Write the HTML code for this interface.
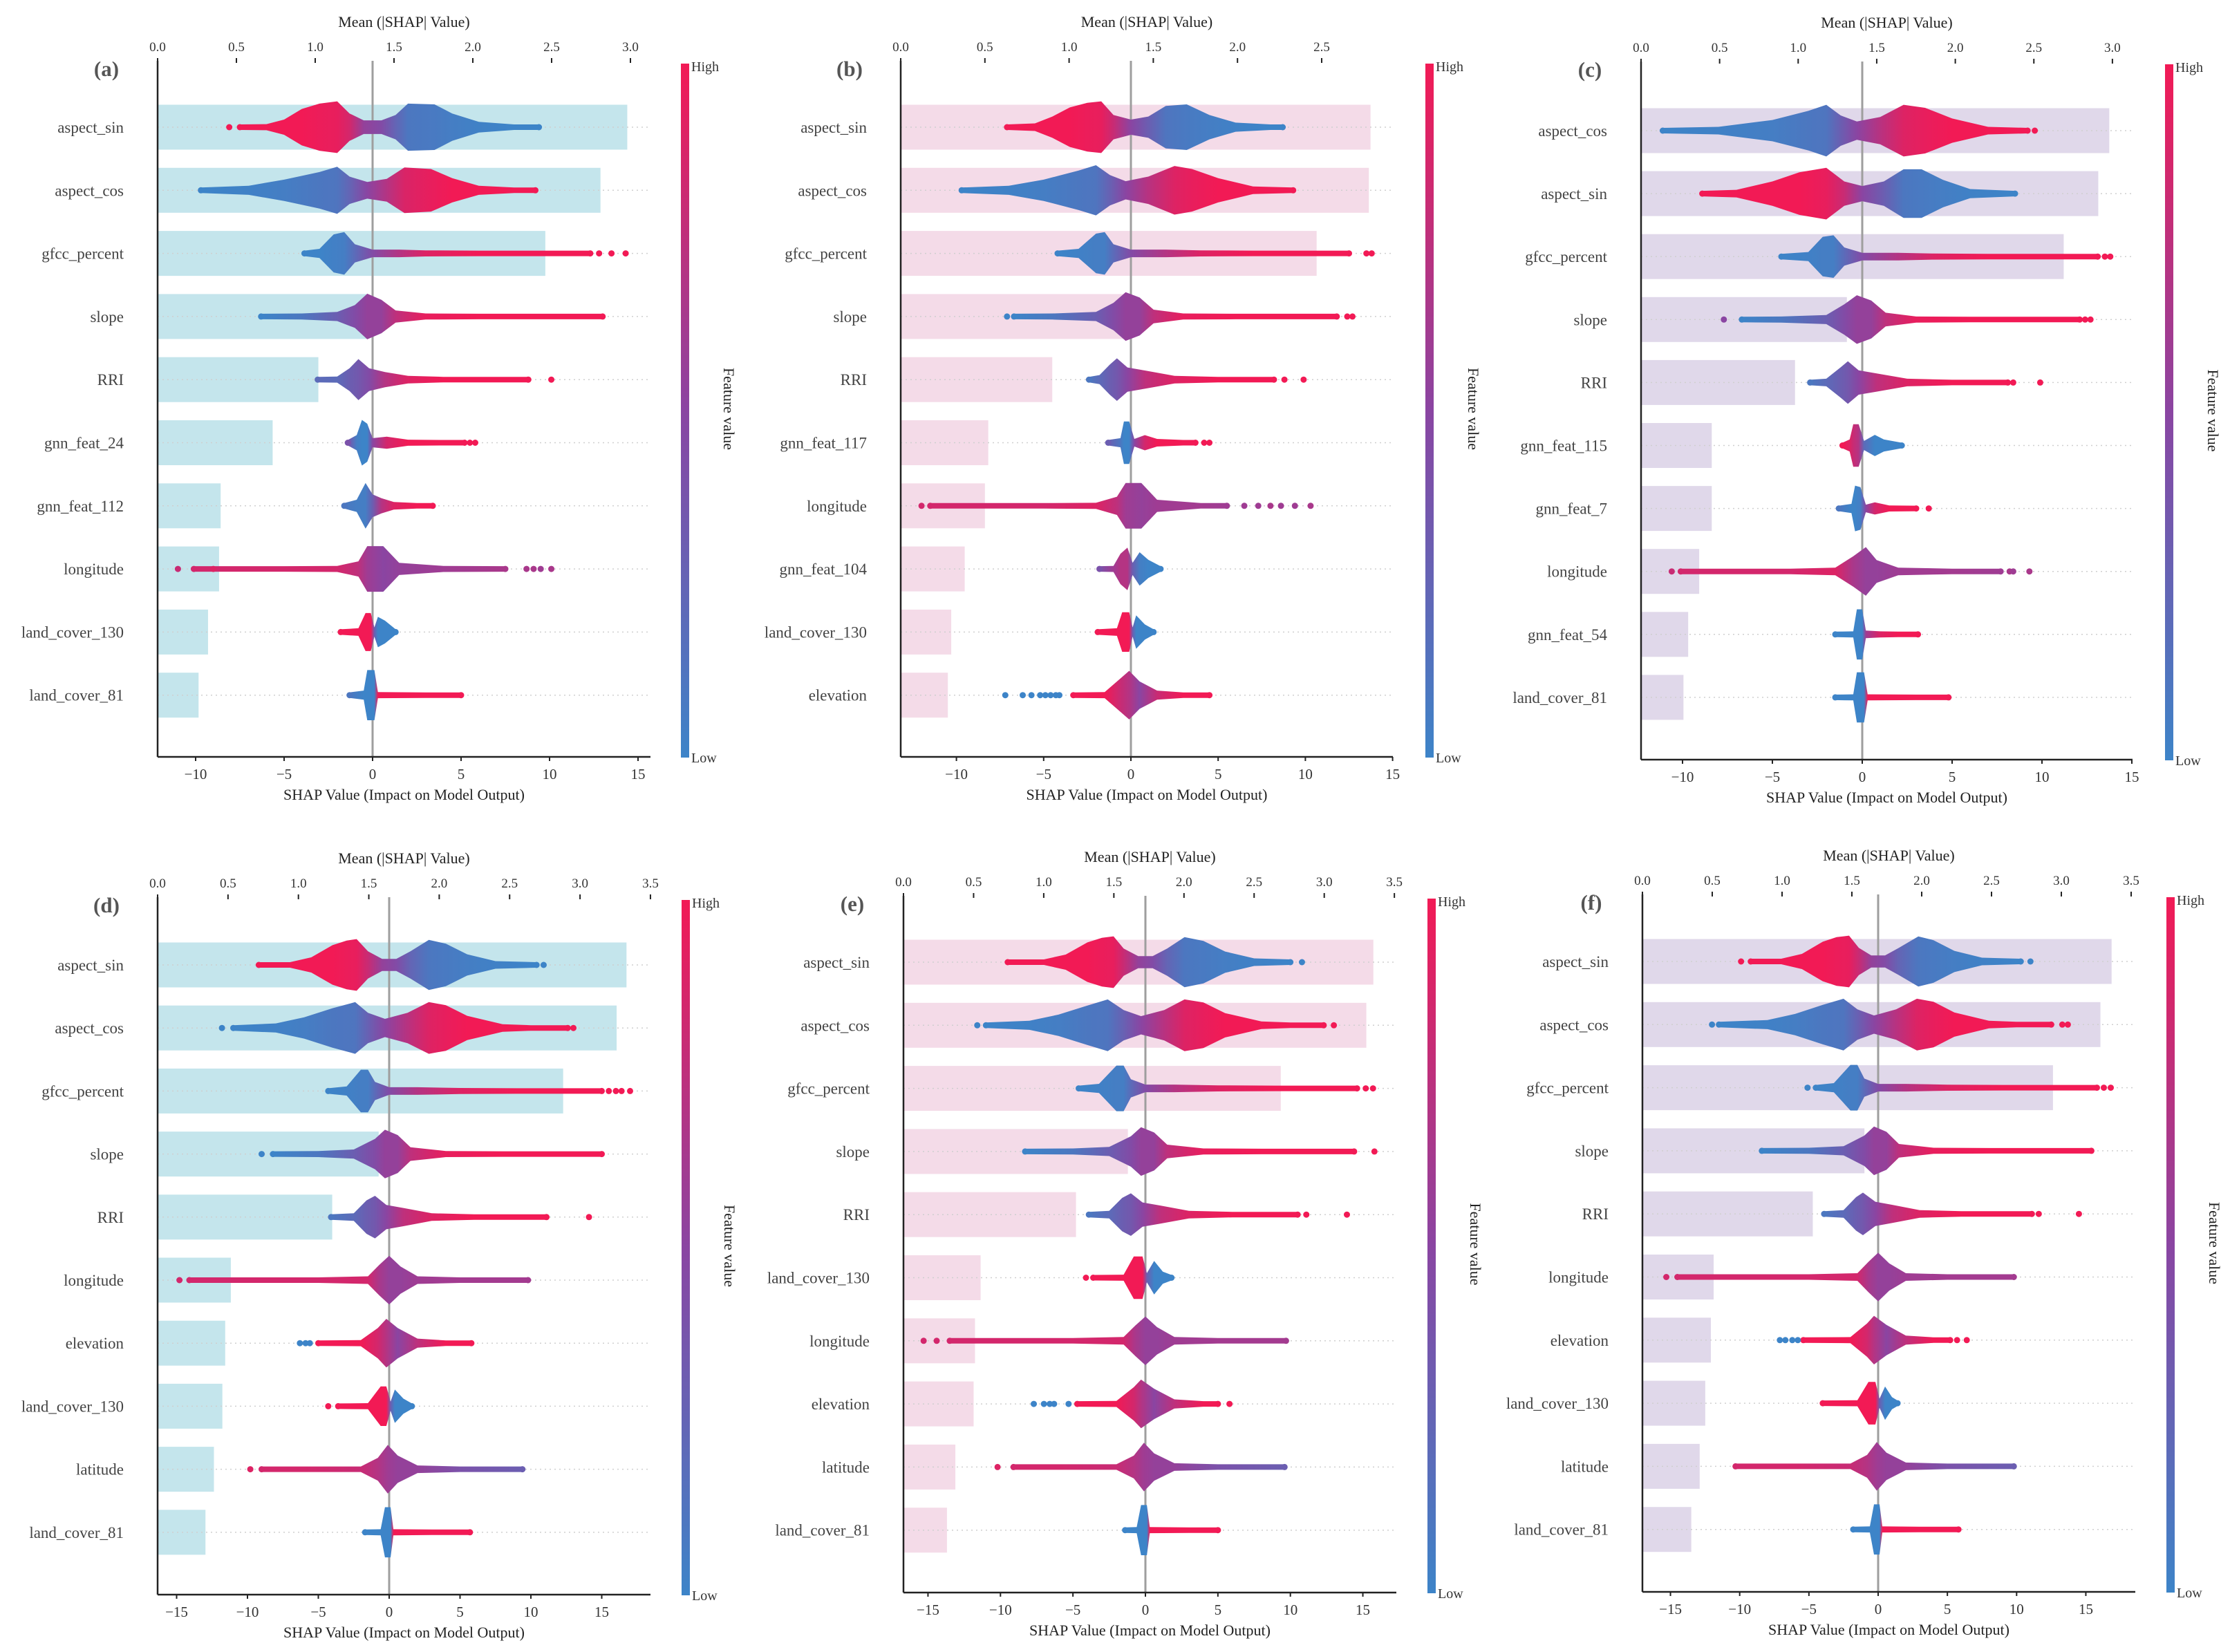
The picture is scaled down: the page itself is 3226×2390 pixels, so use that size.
<!DOCTYPE html>
<html><head><meta charset="utf-8"><style>
html,body{margin:0;padding:0;background:#fff;}
svg{display:block;font-family:"Liberation Serif","DejaVu Serif",serif;}
</style></head><body>
<svg id="fig" width="3226" height="2390" viewBox="0 0 3226 2390" xmlns="http://www.w3.org/2000/svg">
<defs>
<linearGradient id="cbgrad" x1="0" y1="1" x2="0" y2="0">
<stop offset="0" stop-color="#3d84c8"/><stop offset="0.5" stop-color="#8a45a2"/><stop offset="1" stop-color="#f21a55"/>
</linearGradient>
</defs>
</svg>
<script>
// ---------- data ----------
const panelLabels = ["(a)","(b)","(c)","(d)","(e)","(f)"];
const featuresA = ["aspect_sin","aspect_cos","gfcc_percent","slope","RRI","gnn_feat_24","gnn_feat_112","longitude","land_cover_130","land_cover_81"];
const featuresB = ["aspect_sin","aspect_cos","gfcc_percent","slope","RRI","gnn_feat_117","longitude","gnn_feat_104","land_cover_130","elevation"];
const featuresC = ["aspect_cos","aspect_sin","gfcc_percent","slope","RRI","gnn_feat_115","gnn_feat_7","longitude","gnn_feat_54","land_cover_81"];
const featuresD = ["aspect_sin","aspect_cos","gfcc_percent","slope","RRI","longitude","elevation","land_cover_130","latitude","land_cover_81"];
const featuresE = ["aspect_sin","aspect_cos","gfcc_percent","slope","RRI","land_cover_130","longitude","elevation","latitude","land_cover_81"];
const featuresF = ["aspect_sin","aspect_cos","gfcc_percent","slope","RRI","longitude","elevation","land_cover_130","latitude","land_cover_81"];

const meanA = [2.98,2.81,2.46,1.33,1.02,0.73,0.40,0.39,0.32,0.26];
const meanB = [2.79,2.78,2.47,1.33,0.90,0.52,0.50,0.38,0.30,0.28];
const meanC = [2.98,2.91,2.69,1.31,0.98,0.45,0.45,0.37,0.30,0.27];
const meanD = [3.33,3.26,2.88,1.57,1.24,0.52,0.48,0.46,0.40,0.34];
const meanE = [3.35,3.30,2.69,1.60,1.23,0.55,0.51,0.50,0.37,0.31];
const meanF = [3.36,3.28,2.94,1.59,1.22,0.51,0.49,0.45,0.41,0.35];

const shapTicksTop = [-10,-5,0,5,10,15];
const shapTicksBot = [-15,-10,-5,0,5,10,15];
const meanTicks30 = [0,0.5,1,1.5,2,2.5,3];
const meanTicks25 = [0,0.5,1,1.5,2,2.5];
const meanTicks35 = [0,0.5,1,1.5,2,2.5,3,3.5];

// swarm profiles: [shap, density half-height, feature colour 0..1]
const swarmA = [
 [[-7.5,2,1],[-6,4,1],[-5,10,1],[-4,24,1],[-3,31,0.97],[-2,34,0.95],[-1.3,18,0.85],[-0.5,9,0.55],[0.5,9,0.45],[1.3,16,0.25],[2,31,0.1],[3.5,30,0.08],[4.5,18,0.05],[6,7,0.02],[8,3,0],[9.4,2,0]],
 [[-9.7,2,0],[-7,6,0.02],[-5,14,0.05],[-3,24,0.1],[-2,31,0.12],[-1.3,18,0.25],[-0.3,11,0.5],[0.8,15,0.7],[1.8,30,0.88],[3.3,28,0.95],[4.5,16,1],[6,6,1],[8,3,1],[9.2,2,1]],
 [[-3.85,2,0],[-3,6,0],[-2.2,25,0.03],[-1.6,28,0.05],[-1,12,0.2],[0,5,0.45],[1.5,5,0.7],[3,4,0.9],[6,3,1],[10,2.5,1],[12.3,2,1]],
 [[-6.3,2,0],[-4,4,0.1],[-2,6,0.3],[-1,15,0.45],[-0.3,30,0.55],[0.5,22,0.55],[1.3,8,0.75],[3,4,0.95],[6,3,1],[10,2.5,1],[13,2,1]],
 [[-3.1,2,0.2],[-2,4,0.2],[-1.3,15,0.3],[-0.8,27,0.35],[-0.2,15,0.45],[0.7,10,0.7],[2,5,0.9],[4,3,1],[7,2.5,1],[8.8,2,1]],
 [[-1.4,2,0.4],[-0.9,10,0.05],[-0.6,30,0],[-0.3,25,0],[0,6,0.5],[0.8,8,0.85],[2,4,1],[4,3,1],[5.2,2.5,1]],
 [[-1.6,2,0.1],[-0.9,8,0.05],[-0.4,30,0.05],[0,15,0.3],[0.5,10,0.7],[1.2,5,0.9],[2.5,3,1],[3.4,2,1]],
 [[-10.1,2,0.85],[-5,2.5,0.85],[-2,4,0.85],[-0.8,10,0.75],[-0.3,30,0.6],[0.6,30,0.5],[1.5,8,0.55],[4,4,0.6],[7.5,2.5,0.65]],
 [[-1.8,2,1],[-0.8,5,1],[-0.4,25,1],[-0.1,25,1],[0.1,6,0.3],[0.3,20,0],[0.7,15,0],[1.3,2,0]],
 [[-1.3,2,0.1],[-0.5,6,0],[-0.3,33,0],[0.1,33,0],[0.3,4,1],[3,3.5,1],[5,2.5,1]]
];
const outliersA = [[[-8.1,1]],[],[[12.8,1],[13.5,1],[14.3,1]],[],[[10.1,1]],[[5.5,1],[5.8,1]],[],[[-11,0.8],[-9,0.9],[8.7,0.65],[9.1,0.65],[9.5,0.6],[10.1,0.65]],[],[]];

const swarmB = [
 [[-7.1,2,1],[-5.5,5,1],[-4.5,14,1],[-3.5,26,1],[-2.5,32,0.97],[-1.7,34,0.95],[-1,16,0.8],[0,10,0.5],[1,14,0.3],[2,28,0.12],[3.2,30,0.08],[4.5,16,0.05],[6,6,0.02],[8,3,0],[8.7,2,0]],
 [[-9.7,2,0],[-7,6,0.02],[-5,14,0.05],[-3,26,0.1],[-2,33,0.12],[-1.2,20,0.28],[-0.3,12,0.5],[1,18,0.72],[2.5,32,0.9],[3.5,28,0.95],[5,16,1],[7,5,1],[9.3,2,1]],
 [[-4.2,2,0],[-3,6,0.02],[-2,26,0.05],[-1.5,28,0.05],[-1,12,0.2],[0,5,0.45],[2,5,0.7],[4,4,0.9],[7,3,1],[11,2.5,1],[12.5,2,1]],
 [[-6.7,2,0],[-4.5,4,0.1],[-2,6,0.3],[-1,18,0.45],[-0.3,32,0.55],[0.5,25,0.55],[1.3,9,0.75],[3,4,0.95],[6,3,1],[10,2.5,1],[11.8,2,1]],
 [[-2.4,2,0.1],[-1.8,6,0.2],[-1.2,20,0.3],[-0.8,28,0.35],[-0.2,16,0.5],[0.8,12,0.75],[2.5,5,0.9],[5,3,1],[8.2,2,1]],
 [[-1.3,2,0.3],[-0.6,6,0.1],[-0.4,28,0],[-0.1,28,0],[0.2,5,0.5],[0.8,10,0.85],[1.5,5,1],[3,3,1],[3.7,2,1]],
 [[-11.5,2,0.85],[-8,2.5,0.85],[-5,2.5,0.85],[-2,4,0.9],[-0.8,12,0.75],[-0.3,30,0.6],[0.6,30,0.55],[1.5,8,0.6],[4,3,0.62],[5.5,2.5,0.6]],
 [[-1.8,2,0.4],[-1,4,0.6],[-0.6,20,0.7],[-0.2,28,0.7],[0.1,8,0.3],[0.5,22,0.05],[1,12,0],[1.7,3,0]],
 [[-1.9,2,1],[-0.8,5,1],[-0.5,26,1],[-0.1,26,1],[0.1,6,0.3],[0.3,22,0],[0.8,10,0],[1.3,2,0]],
 [[-3.3,2,1],[-1.5,4,1],[-0.6,22,0.8],[-0.1,32,0.7],[0.5,18,0.5],[1.5,6,0.8],[3,3,1],[4.5,2,1]]
];
const outliersB = [[],[],[[13.5,1],[13.8,1]],[[-7.1,0],[12.4,1],[12.7,1]],[[8.8,1],[9.9,1]],[[4.2,1],[4.5,1]],[[-12,0.85],[6.5,0.6],[7.3,0.6],[8,0.65],[8.6,0.6],[9.4,0.6],[10.3,0.65]],[],[],[[-7.2,0],[-6.2,0],[-5.7,0],[-5.2,0],[-4.9,0],[-4.6,0],[-4.3,0],[-4.1,0]]];

const swarmC = [
 [[-11.1,2,0],[-8,5,0.02],[-5,14,0.05],[-3,26,0.1],[-2,34,0.12],[-1.2,20,0.3],[-0.3,12,0.5],[1,18,0.72],[2.3,34,0.9],[3.5,30,0.95],[5,16,1],[7,5,1],[9.2,2,1]],
 [[-8.9,2,1],[-7,5,1],[-5,16,1],[-3.5,28,1],[-2,34,0.95],[-1,16,0.8],[0,10,0.5],[1.2,16,0.3],[2.3,32,0.1],[3.3,32,0.08],[4.5,18,0.05],[6,6,0.02],[8.5,2,0]],
 [[-4.5,2,0],[-3,6,0.02],[-2.2,26,0.05],[-1.6,28,0.05],[-1,12,0.2],[0,5,0.45],[2,5,0.7],[4,4,0.9],[7,3,1],[12,2.5,1],[13.1,2,1]],
 [[-6.7,2,0],[-4.5,4,0.1],[-2,6,0.3],[-1,20,0.45],[-0.3,32,0.55],[0.5,25,0.55],[1.3,9,0.75],[3,4,0.95],[6,3,1],[11,2.5,1],[12.1,2,1]],
 [[-2.9,2,0.1],[-2,5,0.2],[-1.2,20,0.3],[-0.8,28,0.35],[-0.2,16,0.5],[0.8,12,0.75],[2.5,5,0.9],[5,3,1],[8.1,2,1]],
 [[-1.1,2,1],[-0.7,8,0.9],[-0.5,28,0.8],[-0.2,28,0.7],[0.1,6,0.2],[0.7,14,0],[1.2,8,0],[2.2,2,0]],
 [[-1.3,2,0.1],[-0.6,6,0],[-0.4,30,0],[-0.1,28,0.05],[0.2,5,0.5],[0.7,8,0.85],[1.5,4,1],[3,2,1]],
 [[-10.1,2,0.85],[-7,2.5,0.85],[-4,3,0.85],[-1.5,5,0.9],[-0.5,20,0.65],[0.2,32,0.55],[0.8,15,0.55],[2,5,0.6],[5,3,0.62],[7.7,2.5,0.6]],
 [[-1.5,2,0],[-0.5,4,0],[-0.3,33,0],[0,33,0],[0.2,5,0.6],[1,4,0.9],[2,3,1],[3.1,2,1]],
 [[-1.5,2,0],[-0.5,4,0],[-0.3,33,0],[0.1,33,0],[0.3,4,1],[3,3.5,1],[4.8,2.5,1]]
];
const outliersC = [[[9.6,1]],[],[[13.5,1],[13.8,1]],[[-7.7,0.5],[12.4,1],[12.7,1]],[[8.4,1],[9.9,1]],[],[[3.7,1]],[[-10.6,0.8],[8.2,0.65],[8.4,0.6],[9.3,0.65]],[],[]];

const swarmD = [
 [[-9.2,2,1],[-7,3,1],[-5.5,10,1],[-4,26,1],[-3,32,0.97],[-2.3,34,0.95],[-1.5,18,0.8],[-0.5,8,0.55],[0.5,8,0.45],[1.5,18,0.25],[2.8,33,0.1],[4,28,0.08],[5.5,14,0.05],[7.5,5,0.02],[10.4,2,0]],
 [[-11,2,0],[-8,6,0.02],[-6,14,0.05],[-4,26,0.1],[-2.4,34,0.12],[-1.5,20,0.28],[-0.3,12,0.5],[1.3,20,0.72],[2.8,34,0.9],[4,30,0.95],[5.5,16,1],[8,5,1],[10,3,1],[12.6,2,1]],
 [[-4.3,2,0],[-3,6,0.02],[-2,28,0.05],[-1.5,28,0.05],[-1,12,0.2],[0,5,0.45],[2,5,0.7],[5,4,0.9],[9,3,1],[14,2.5,1],[15,2,1]],
 [[-8.2,2,0],[-5,4,0.1],[-2.5,6,0.3],[-1,20,0.45],[-0.3,32,0.55],[0.6,25,0.55],[1.5,9,0.75],[4,4,0.95],[8,3,1],[13,2.5,1],[15,2,1]],
 [[-4.1,2,0.1],[-2.5,5,0.2],[-1.6,22,0.3],[-1,28,0.35],[-0.2,16,0.5],[1,12,0.75],[3,5,0.9],[6,3,1],[11.1,2,1]],
 [[-14.1,2,0.85],[-10,2.5,0.85],[-5,3,0.85],[-1.5,5,0.85],[-0.7,20,0.65],[0,32,0.55],[0.8,18,0.55],[2,5,0.6],[5,3,0.62],[9.8,2.5,0.62]],
 [[-5,2,1],[-2,4,1],[-0.8,20,0.85],[-0.2,32,0.7],[0.6,20,0.5],[2,6,0.75],[4,3,1],[5.8,2,1]],
 [[-3.6,2,1],[-1.5,4,1],[-0.6,26,1],[-0.2,26,1],[0.1,6,0.3],[0.4,22,0],[1,10,0],[1.6,2,0]],
 [[-9,2,0.85],[-6,2.5,0.85],[-2,3,0.8],[-0.8,15,0.7],[-0.1,32,0.6],[0.6,18,0.55],[2,5,0.55],[5,3,0.4],[9.4,2,0.3]],
 [[-1.7,2,0],[-0.6,4,0],[-0.3,33,0],[0.1,33,0],[0.3,4,1],[3,3.5,1],[5.7,2.5,1]]
];
const outliersD = [[[10.9,0]],[[-11.8,0],[13,1]],[[15.5,1],[16,1],[16.4,1],[17,1]],[[-9,0]],[[14.1,1]],[[-14.8,0.85]],[[-6.3,0],[-5.9,0],[-5.6,0]],[[-4.3,1]],[[-9.8,0.9]],[]];

const swarmE = [
 [[-9.5,2,1],[-7,3,1],[-5.5,10,1],[-4,26,1],[-3,32,0.97],[-2.2,34,0.95],[-1.5,18,0.8],[-0.5,8,0.55],[0.5,8,0.45],[1.5,18,0.25],[2.7,33,0.1],[4,28,0.08],[5.5,14,0.05],[7.5,5,0.02],[10,2,0]],
 [[-11,2,0],[-8,6,0.02],[-6,14,0.05],[-4,26,0.1],[-2.6,34,0.12],[-1.5,20,0.28],[-0.3,12,0.5],[1.3,20,0.72],[2.7,34,0.9],[4,30,0.95],[5.5,16,1],[8,5,1],[10,3,1],[12.3,2,1]],
 [[-4.6,2,0],[-3.2,6,0.02],[-2,30,0.05],[-1.5,30,0.05],[-1,12,0.2],[0,5,0.45],[2,5,0.7],[5,4,0.9],[9,3,1],[14,2.5,1],[14.6,2,1]],
 [[-8.3,2,0],[-5,4,0.1],[-2.5,6,0.3],[-1,20,0.45],[-0.3,32,0.55],[0.6,25,0.55],[1.5,9,0.75],[4,4,0.95],[8,3,1],[13,2.5,1],[14.4,2,1]],
 [[-3.9,2,0.1],[-2.5,5,0.2],[-1.6,22,0.3],[-1,28,0.35],[-0.2,16,0.5],[1,12,0.75],[3,5,0.9],[6,3,1],[10.5,2,1]],
 [[-3.6,2,1],[-1.5,4,1],[-0.8,28,1],[-0.2,28,1],[0.1,6,0.3],[0.6,22,0],[1.2,8,0],[1.8,2,0]],
 [[-13.5,2,0.85],[-10,2.5,0.85],[-5,3,0.85],[-1.5,5,0.85],[-0.7,20,0.65],[0,32,0.55],[0.8,18,0.55],[2,5,0.6],[5,3,0.62],[9.7,2.5,0.62]],
 [[-4.7,2,1],[-2,4,1],[-0.8,22,0.85],[-0.3,32,0.7],[0.6,20,0.5],[2,6,0.75],[4,3,1],[5,2,1]],
 [[-9.1,2,0.85],[-6,2.5,0.85],[-2,3,0.8],[-0.8,15,0.7],[-0.1,32,0.6],[0.6,18,0.55],[2,5,0.55],[5,3,0.4],[9.6,2,0.3]],
 [[-1.4,2,0],[-0.6,4,0],[-0.3,33,0],[0.1,33,0],[0.3,4,1],[3,3.5,1],[5,2.5,1]]
];
const outliersE = [[[10.8,0]],[[-11.6,0],[13,1]],[[15.2,1],[15.7,1]],[[15.8,1]],[[11.1,1],[13.9,1]],[[-4.1,1]],[[-15.3,0.85],[-14.4,0.85]],[[-7.7,0],[-7,0],[-6.6,0],[-6.3,0],[-5.3,0],[5.8,1]],[[-10.2,0.9]],[]];

const swarmF = [
 [[-9.2,2,1],[-7,3,1],[-5.5,10,1],[-4,26,1],[-3,32,0.97],[-2.1,34,0.95],[-1.4,18,0.8],[-0.5,8,0.55],[0.5,8,0.45],[1.5,18,0.25],[2.9,33,0.1],[4,28,0.08],[5.5,14,0.05],[7.5,5,0.02],[10.3,2,0]],
 [[-11.5,2,0],[-8,6,0.02],[-6,14,0.05],[-4,26,0.1],[-2.5,34,0.12],[-1.5,20,0.28],[-0.3,12,0.5],[1.3,20,0.72],[2.8,34,0.9],[4,30,0.95],[5.5,16,1],[8,5,1],[10,3,1],[12.5,2,1]],
 [[-4.5,2,0],[-3.2,6,0.02],[-2,30,0.05],[-1.5,30,0.05],[-1,12,0.2],[0,5,0.45],[2,5,0.7],[5,4,0.9],[9,3,1],[15,2.5,1],[15.8,2,1]],
 [[-8.4,2,0],[-5,4,0.1],[-2.5,6,0.3],[-1,20,0.45],[-0.3,32,0.55],[0.6,25,0.55],[1.5,9,0.75],[4,4,0.95],[8,3,1],[13,2.5,1],[15.4,2,1]],
 [[-3.9,2,0.1],[-2.5,5,0.2],[-1.6,22,0.3],[-1.1,28,0.35],[-0.2,16,0.5],[1,12,0.75],[3,5,0.9],[6,3,1],[11.1,2,1]],
 [[-14.5,2,0.85],[-10,2.5,0.85],[-5,3,0.85],[-1.5,5,0.85],[-0.7,20,0.65],[0,32,0.55],[0.8,18,0.55],[2,5,0.6],[5,3,0.62],[9.8,2.5,0.62]],
 [[-5.4,2,1],[-2,4,1],[-0.8,22,0.85],[-0.3,32,0.7],[0.6,20,0.5],[2,6,0.75],[4,3,1],[5.2,2,1]],
 [[-4,2,1],[-1.5,4,1],[-0.7,28,1],[-0.2,28,1],[0.1,6,0.3],[0.5,22,0],[1,8,0],[1.4,2,0]],
 [[-10.3,2,0.85],[-6,2.5,0.85],[-2,3,0.8],[-0.8,15,0.7],[-0.1,32,0.6],[0.6,18,0.55],[2,5,0.55],[5,3,0.4],[9.8,2,0.3]],
 [[-1.8,2,0],[-0.6,4,0],[-0.3,33,0],[0.1,33,0],[0.3,4,1],[3,3.5,1],[5.8,2.5,1]]
];
const outliersF = [[[-9.9,1],[11,0]],[[-12,0],[13.3,1],[13.7,1]],[[-5.1,0],[16.3,1],[16.8,1]],[],[[11.6,1],[14.5,1]],[[-15.3,0.85]],[[-7.1,0],[-6.7,0],[-6.2,0],[-5.8,0],[5.7,1],[6.4,1]],[],[],[]];

// ---------- layout (pixels) ----------
const panels = [
 {label:panelLabels[0],feat:featuresA,mean:meanA,sw:swarmA,out:outliersA,L:228,R:941,T:88,B:1095,zero:539,sp:25.6,mp:228,row0:184,step:91.3,cbx:985,bar:"#c4e5ec",st:shapTicksTop,mt:meanTicks30},
 {label:panelLabels[1],feat:featuresB,mean:meanB,sw:swarmB,out:outliersB,L:1303,R:2015,T:88,B:1095,zero:1636,sp:25.24,mp:243.6,row0:184,step:91.3,cbx:2062,bar:"#f4dbe8",st:shapTicksTop,mt:meanTicks25},
 {label:panelLabels[2],feat:featuresC,mean:meanC,sw:swarmC,out:outliersC,L:2374,R:3085,T:89,B:1099,zero:2694,sp:26,mp:227.3,row0:189,step:91.1,cbx:3132,bar:"#e0d8ea",st:shapTicksTop,mt:meanTicks30},
 {label:panelLabels[3],feat:featuresD,mean:meanD,sw:swarmD,out:outliersD,L:228,R:941,T:1298,B:2307,zero:563,sp:20.5,mp:203.7,row0:1396,step:91.2,cbx:986,bar:"#c4e5ec",st:shapTicksBot,mt:meanTicks35},
 {label:panelLabels[4],feat:featuresE,mean:meanE,sw:swarmE,out:outliersE,L:1307,R:2020,T:1296,B:2304,zero:1657,sp:20.97,mp:202.9,row0:1392,step:91.3,cbx:2065,bar:"#f4dbe8",st:shapTicksBot,mt:meanTicks35},
 {label:panelLabels[5],feat:featuresF,mean:meanF,sw:swarmF,out:outliersF,L:2376,R:3089,T:1294,B:2303,zero:2717,sp:20.03,mp:202,row0:1391,step:91.3,cbx:3134,bar:"#e0d8ea",st:shapTicksBot,mt:meanTicks35}
];
const BARH = 65, HSCALE = 1.1;

const NS = "http://www.w3.org/2000/svg";
const svg = document.getElementById('fig');
const defs = svg.querySelector('defs');
function mk(tag, attrs, parent){ const e=document.createElementNS(NS,tag); for(const k in attrs) e.setAttribute(k,attrs[k]); (parent||svg).appendChild(e); return e; }
function col(c){
  const s=[[61,132,200],[138,69,162],[242,26,85]];
  let a,b,t; if(c<=0.5){a=s[0];b=s[1];t=c/0.5;} else {a=s[1];b=s[2];t=(c-0.5)/0.5;}
  return "rgb("+a.map((v,i)=>Math.round(v+(b[i]-v)*t)).join(",")+")";
}
function fmt(v){ return v<0 ? "\u2212"+Math.abs(v) : String(v); }
let gid=0;
panels.forEach((p,pi)=>{
  const g = mk('g',{});
  
  
  const xs = v => p.zero + v*p.sp;
  const xm = v => p.L + v*p.mp;
  const ry = i => p.row0 + i*p.step;
  p.mean.forEach((m,i)=>{
    const r = mk('rect',{x:p.L,y:ry(i)-BARH/2,width:xm(m)-p.L,height:BARH,fill:p.bar},g);
    
    
  });
  p.feat.forEach((f,i)=>{
    mk('line',{x1:p.L,x2:p.R,y1:ry(i),y2:ry(i),stroke:"#cfcfcf","stroke-width":1.5,"stroke-dasharray":"2,5"},g);
  });
  const zl = mk('line',{x1:p.zero,x2:p.zero,y1:p.T,y2:p.B,stroke:"#9e9e9e","stroke-width":3},g);
  
  
  p.sw.forEach((prof,i)=>{
    const y=ry(i); const id='sg'+(gid++);
    const x0=xs(prof[0][0]), x1=xs(prof[prof.length-1][0]);
    const lg = mk('linearGradient',{id:id,gradientUnits:"userSpaceOnUse",x1:x0,x2:x1,y1:0,y2:0},defs);
    prof.forEach(pt=>{ mk('stop',{offset:((xs(pt[0])-x0)/(x1-x0)).toFixed(4),"stop-color":col(pt[2])},lg); });
    let up=[],dn=[];
    prof.forEach(pt=>{ const h=Math.max(pt[1]*HSCALE,4); up.push(xs(pt[0]).toFixed(1)+","+(y-h).toFixed(1)); dn.unshift(xs(pt[0]).toFixed(1)+","+(y+h).toFixed(1)); });
    const path = mk('path',{d:"M"+up.join(" L")+" L"+dn.join(" L")+" Z",fill:"url(#"+id+")"},g);
    
    
    mk('circle',{cx:x0,cy:y,r:4.5,fill:col(prof[0][2])},g);
    mk('circle',{cx:x1,cy:y,r:4.5,fill:col(prof[prof.length-1][2])},g);
    p.out[i].forEach(o=>{
      const c = mk('circle',{cx:xs(o[0]),cy:y,r:4.5,fill:col(o[1])},g);
      
      
    });
    const t = mk('text',{x:p.L-49,y:y+8,"text-anchor":"end","font-size":23,fill:"#444"},g);
    t.textContent = p.feat[i];
    
    
  });
  mk('line',{x1:p.L,x2:p.L,y1:p.T,y2:p.B,stroke:"#222","stroke-width":2.5},g);
  mk('line',{x1:p.L,x2:p.R,y1:p.B,y2:p.B,stroke:"#222","stroke-width":2.5},g);
  p.st.forEach(v=>{
    const x=xs(v); if(x<p.L-2||x>p.R+2) return;
    mk('line',{x1:x,x2:x,y1:p.B,y2:p.B+6,stroke:"#222","stroke-width":2},g);
    const t=mk('text',{x:x,y:p.B+32,"text-anchor":"middle","font-size":21,fill:"#333"},g);
    t.textContent=fmt(v);
    
    
  });
  const xl=mk('text',{x:(p.L+p.R)/2,y:p.B+62,"text-anchor":"middle","font-size":22,fill:"#222"},g);
  xl.textContent="SHAP Value (Impact on Model Output)";
  
  
  p.mt.forEach(v=>{
    const x=xm(v);
    mk('line',{x1:x,x2:x,y1:p.T-4,y2:p.T+3,stroke:"#222","stroke-width":2},g);
    const t=mk('text',{x:x,y:p.T-14,"text-anchor":"middle","font-size":19,fill:"#333"},g);
    t.textContent=v.toFixed(1);
    
    
  });
  const tl=mk('text',{x:(p.L+p.R)/2,y:p.T-49,"text-anchor":"middle","font-size":22,fill:"#222"},g);
  tl.textContent="Mean (|SHAP| Value)";
  
  
  const pl=mk('text',{x:p.L-74,y:p.T+22,"text-anchor":"middle","font-size":31,"font-weight":"bold",fill:"#555"},g);
  pl.textContent=p.label;
  
  
  const cb=mk('rect',{x:p.cbx,y:p.T+4,width:12,height:p.B-p.T-3,fill:"url(#cbgrad)"},g);
  
  
  const hi=mk('text',{x:p.cbx+15,y:p.T+15,"font-size":20,fill:"#333"},g); hi.textContent="High";
  
  
  const lo=mk('text',{x:p.cbx+15,y:p.B+8,"font-size":20,fill:"#333"},g); lo.textContent="Low";
  
  
  const cy=(p.T+p.B)/2;
  const fv=mk('text',{x:p.cbx+62,y:cy,"text-anchor":"middle","font-size":22,fill:"#222",transform:"rotate(90 "+(p.cbx+62)+" "+cy+")"},g);
  fv.textContent="Feature value";
  
  
});
</script>
</body></html>
